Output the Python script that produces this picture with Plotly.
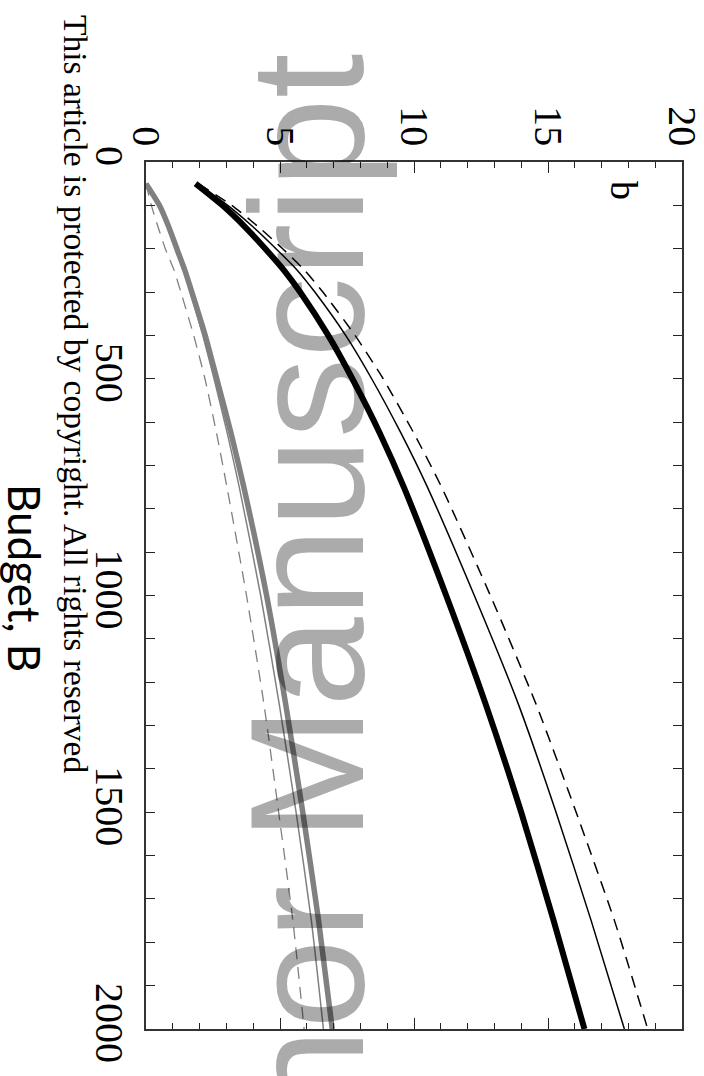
import plotly.graph_objects as go

# Data
budget = [50, 100, 150, 200, 250, 300, 400, 500, 625, 750, 1000, 1250, 1500, 1750, 2000]

black_thick = [1.85, 2.85, 3.7, 4.45, 5.15, 5.75, 6.8, 7.7, 8.72, 9.62, 11.2, 12.67, 14.0, 15.21, 16.36]
black_thin = [1.9, 3.05, 4.0, 4.85, 5.65, 6.3, 7.45, 8.42, 9.51, 10.5, 12.25, 13.89, 15.3, 16.61, 17.85]
black_dash = [1.95, 3.2, 4.2, 5.1, 5.92, 6.6, 7.8, 8.85, 9.99, 11.03, 12.85, 14.55, 16.05, 17.48, 18.72]

gray_thick = [0.0, 0.5, 0.85, 1.15, 1.45, 1.71, 2.21, 2.64, 3.17, 3.65, 4.5, 5.21, 5.85, 6.44, 6.95]
gray_thin = [0.0, 0.47, 0.82, 1.1, 1.4, 1.65, 2.12, 2.54, 3.03, 3.48, 4.28, 4.97, 5.6, 6.17, 6.62]
gray_dash = [0.0, 0.2, 0.45, 0.72, 1.05, 1.3, 1.78, 2.2, 2.63, 3.02, 3.75, 4.40, 4.95, 5.48, 5.9]

value_ticks = [0, 5, 10, 15, 20]
budget_ticks = [0, 500, 1000, 1500, 2000]

W, H = 704, 1076
L, R, T, B = 146, 22, 162, 47

def px(xp):
    return (xp - L) / (W - L - R)

def py(yp):
    return (H - B - yp) / (H - T - B)

fig = go.Figure()

series = [
    (gray_dash, "#808080", 1.3, "12px,8px"),
    (gray_thin, "#808080", 1.5, "solid"),
    (gray_thick, "#808080", 5.5, "solid"),
    (black_dash, "#000000", 1.5, "12px,8px"),
    (black_thin, "#000000", 1.5, "solid"),
    (black_thick, "#000000", 6, "solid"),
]
for vals, col, w, dash in series:
    fig.add_trace(go.Scatter(x=vals, y=budget, mode="lines",
                             line=dict(color=col, width=w, dash=dash, shape="spline", smoothing=0.6),
                             showlegend=False, hoverinfo="skip"))

serif = "Liberation Serif"
fig.update_xaxes(range=[0, 20], side="top", tickvals=value_ticks,
                 ticktext=[str(v) for v in value_ticks], tickangle=90,
                 tickfont=dict(family=serif, size=40, color="black"),
                 ticklabeloverflow="allow", automargin=False,
                 ticks="inside", ticklen=11, tickcolor="#222", tickwidth=1.2,
                 minor=dict(dtick=1, ticks="inside", ticklen=6, tickcolor="#222", tickwidth=1.2),
                 showline=True, linecolor="#333", linewidth=1.5, mirror="ticks",
                 showgrid=False, zeroline=False)
fig.update_yaxes(range=[2000, 0], tickvals=budget_ticks,
                 ticktext=[str(v) for v in budget_ticks], tickangle=90,
                 tickfont=dict(family=serif, size=40, color="black"),
                 ticklabeloverflow="allow", automargin=False,
                 ticks="inside", ticklen=9, tickcolor="#222", tickwidth=1.2,
                 minor=dict(dtick=100, ticks="inside", ticklen=9, tickcolor="#222", tickwidth=1.2),
                 showline=True, linecolor="#333", linewidth=1.5, mirror="ticks",
                 showgrid=False, zeroline=False)

annotations = [
    dict(text="Budget, B", x=px(25), y=py(578), xref="paper", yref="paper",
         textangle=90, showarrow=False, xanchor="center", yanchor="middle",
         font=dict(family="Lato", size=44, color="black")),
    dict(text="This article is protected by copyright. All rights reserved",
         x=px(76), y=py(394), xref="paper", yref="paper",
         textangle=90, showarrow=False, xanchor="center", yanchor="middle",
         font=dict(family=serif, size=33.5, color="black")),
    dict(text="b", x=px(624), y=py(190), xref="paper", yref="paper",
         textangle=90, showarrow=False, xanchor="center", yanchor="middle",
         font=dict(family=serif, size=38, color="black")),
    dict(text="Author Manuscript", x=px(307), y=py(52), xref="paper", yref="paper",
         textangle=-90, showarrow=False, xanchor="center", yanchor="top",
         font=dict(family="Liberation Sans", size=161, color="rgba(0,0,0,0.33)")),
]

fig.update_layout(width=W, height=H, autosize=False,
                  margin=dict(l=L, r=R, t=T, b=B, pad=0, autoexpand=False),
                  paper_bgcolor="white", plot_bgcolor="white",
                  annotations=annotations)

fig.write_html("out.html", config={"displayModeBar": False},
               post_script="document.body.style.margin='0';document.body.style.padding='0';")
